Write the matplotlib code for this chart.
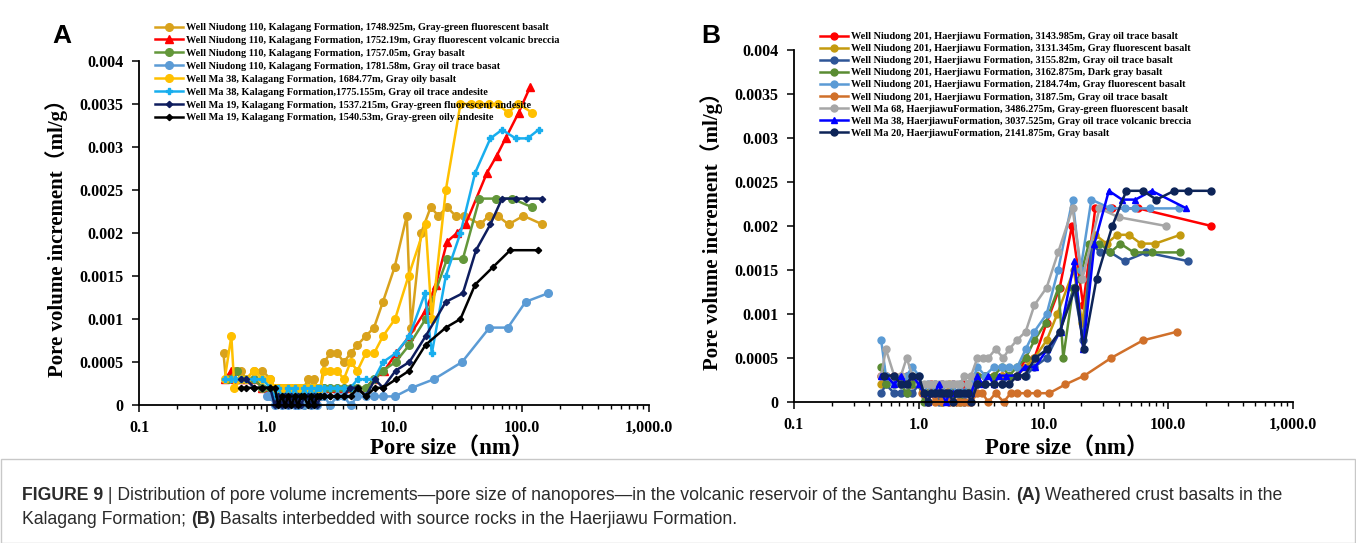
import matplotlib
matplotlib.use("Agg")
import matplotlib.pyplot as plt
from matplotlib.ticker import FixedLocator, NullFormatter, LogLocator
from matplotlib.patches import Rectangle

W, H = 1356, 543

# ---------------- Panel A data ----------------
labels_a = [
    "Well Niudong 110, Kalagang Formation, 1748.925m, Gray-green fluorescent basalt",
    "Well Niudong 110, Kalagang Formation, 1752.19m, Gray fluorescent volcanic breccia",
    "Well Niudong 110, Kalagang Formation, 1757.05m, Gray basalt",
    "Well Niudong 110, Kalagang Formation, 1781.58m, Gray oil trace basat",
    "Well Ma 38, Kalagang Formation, 1684.77m, Gray oily basalt",
    "Well Ma 38, Kalagang Formation,1775.155m, Gray oil trace andesite",
    "Well Ma 19, Kalagang Formation, 1537.215m, Gray-green fluorescent andesite",
    "Well Ma 19, Kalagang Formation, 1540.53m, Gray-green oily andesite",
]

a1_x = [0.46, 0.48, 0.53, 0.57, 0.63, 0.69, 0.80, 0.93, 1.07,
        1.16, 1.24, 1.32, 1.40, 1.48, 1.57, 1.66, 1.76, 1.87, 1.98, 2.10, 2.22, 2.36, 2.50, 2.65,
        2.84, 3.15, 3.59, 4.04, 4.56, 5.17, 6.0, 6.97, 8.19, 10.1, 12.6,
        13.6, 16.3, 19.4, 22.3, 26.1, 30.4, 35.4, 47.6, 55.3, 65.1, 79.1, 103.5, 146]
a1_y = [0.0006, 0.0003, 0.0003, 0.0004, 0.0004, 0.0003, 0.0004, 0.0004, 0.0003,
        0.0002, 0.0002, 0.0002, 0.0002, 0.0002, 0.0002, 0.0002, 0.0002, 0.0002, 0.0002, 0.0003, 0.0002, 0.0003, 0.0002, 0.0002,
        0.0005, 0.0006, 0.0006, 0.0005, 0.0006, 0.0007, 0.0008, 0.0009, 0.0012, 0.0016, 0.0022,
        0.0009, 0.0020, 0.0023, 0.0022, 0.0023, 0.0022, 0.0022, 0.0021, 0.0022, 0.0022, 0.0021, 0.0022, 0.0021]

a2_x = [0.47, 0.53, 0.57, 0.63, 0.69, 0.80, 0.93, 1.07,
        1.16, 1.24, 1.32, 1.40, 1.48, 1.57, 1.66, 1.76, 1.87, 1.98, 2.10, 2.22, 2.36, 2.50, 2.65,
        2.84, 3.15, 3.59, 4.04, 4.56, 5.17, 6.0, 6.97, 8.4, 10.4, 13.2, 17.7, 21.3,
        26.1, 31.2, 36.4, 53.6, 64.0, 75.0, 95.0, 117.0]
a2_y = [0.0003, 0.0004, 0.0003, 0.0003, 0.0003, 0.0003, 0.0002, 0.0002,
        0.0001, 0.0002, 0.0001, 0.0002, 0.0001, 0.0002, 0.0001, 0.0002, 0.0001, 0.0002, 0.0002, 0.0001, 0.0002, 0.0001, 0.0002,
        0.0002, 0.0002, 0.0002, 0.0002, 0.0002, 0.0002, 0.0002, 0.0003, 0.0004, 0.0006, 0.0008, 0.0011, 0.0014,
        0.0019, 0.0020, 0.0021, 0.0027, 0.0029, 0.0031, 0.0034, 0.0037]

a3_x = [0.50, 0.59, 0.63, 0.69, 0.80, 0.93, 1.07,
        1.16, 1.24, 1.32, 1.40, 1.48, 1.57, 1.66, 1.76, 1.87, 1.98, 2.10, 2.22, 2.36, 2.50, 2.65,
        2.84, 3.15, 3.59, 4.04, 4.56, 5.17, 6.0, 6.97, 8.2, 10.3, 13.2, 17.7,
        26.1, 34.7, 46.8, 62.8, 84.2, 121.0]
a3_y = [0.0003, 0.0004, 0.0003, 0.0003, 0.0003, 0.0002, 0.0002,
        0.0001, 0.0002, 0.0001, 0.0001, 0.0002, 0.0001, 0.0001, 0.0002, 0.0001, 0.0001, 0.0002, 0.0001, 0.0001, 0.0002, 0.0001,
        0.0002, 0.0002, 0.0002, 0.0002, 0.0002, 0.0002, 0.0002, 0.0003, 0.0004, 0.0005, 0.0007, 0.0010,
        0.0017, 0.0017, 0.0024, 0.0024, 0.0024, 0.0023]

a4_x = [1.00, 1.07,
        1.16, 1.24, 1.32, 1.40, 1.48, 1.57, 1.66, 1.76, 1.87, 1.98, 2.10, 2.22, 2.36, 2.50, 2.65,
        2.84, 3.15, 3.59, 4.04, 4.56, 5.17, 6.0, 6.97, 8.19, 10.2, 13.8,
        20.6, 34.2, 56.1, 78.2, 107.7, 162.0]
a4_y = [0.0001, 0.0001,
        0.0, 0.0001, 0.0, 0.0001, 0.0, 0.0001, 0.0, 0.0, 0.0001, 0.0, 0.0001, 0.0, 0.0001, 0.0, 0.0001,
        0.0001, 0.0, 0.0001, 0.0001, 0.0, 0.0001, 0.0001, 0.0001, 0.0001, 0.0001, 0.0002,
        0.0003, 0.0005, 0.0009, 0.0009, 0.0012, 0.0013]

a5_x = [0.47, 0.53, 0.56, 0.63, 0.69, 0.80, 0.93, 1.07,
        1.16, 1.24, 1.32, 1.40, 1.48, 1.57, 1.66, 1.76, 1.87, 1.98, 2.10, 2.22, 2.36, 2.50, 2.65,
        2.84, 3.15, 3.59, 4.04, 4.56, 5.17, 6.0, 6.97, 8.19, 10.2, 13.0,
        17.7, 19.8, 25.5, 33.2, 40.0, 46.2, 55.3, 65.0, 78.2, 94.7, 121.0]
a5_y = [0.0003, 0.0008, 0.0002, 0.0003, 0.0003, 0.0004, 0.0003, 0.0003,
        0.0002, 0.0002, 0.0002, 0.0002, 0.0002, 0.0002, 0.0002, 0.0002, 0.0002, 0.0002, 0.0002, 0.0002, 0.0002, 0.0002, 0.0002,
        0.0004, 0.0004, 0.0004, 0.0003, 0.0005, 0.0004, 0.0006, 0.0006, 0.0008, 0.0010, 0.0015,
        0.0021, 0.0010, 0.0025, 0.0035, 0.0035, 0.0035, 0.0035, 0.0035, 0.0034, 0.0035, 0.0034]

a6_x = [0.47, 0.53, 0.57, 0.63, 0.69, 0.80, 0.93, 1.07,
        1.16, 1.24, 1.32, 1.40, 1.48, 1.57, 1.66, 1.76, 1.87, 1.98, 2.10, 2.22, 2.36, 2.50, 2.65,
        2.84, 3.15, 3.59, 4.04, 4.56, 5.2, 6.0, 6.97, 8.2, 10.3, 13.2, 17.5,
        19.8, 25.5, 33.2, 43.3, 57.0, 70.3, 90.0, 111.6, 136.0]
a6_y = [0.0003, 0.0003, 0.0003, 0.0003, 0.0003, 0.0003, 0.0003, 0.0002,
        0.0001, 0.0002, 0.0001, 0.0001, 0.0002, 0.0001, 0.0002, 0.0001, 0.0001, 0.0002, 0.0001, 0.0002, 0.0001, 0.0002, 0.0002,
        0.0002, 0.0002, 0.0002, 0.0002, 0.0002, 0.0003, 0.0003, 0.0003, 0.0005, 0.0006, 0.0008, 0.0013,
        0.0006, 0.0015, 0.0020, 0.0027, 0.0031, 0.0032, 0.0031, 0.0031, 0.0032]

a7_x = [0.63, 0.69, 0.80, 0.93, 1.07,
        1.16, 1.24, 1.32, 1.40, 1.48, 1.57, 1.66, 1.76, 1.87, 1.98, 2.10, 2.22, 2.36, 2.50, 2.65,
        2.84, 3.15, 3.59, 4.04, 4.50, 5.17, 6.0, 7.1, 8.2, 10.3, 13.2, 17.7,
        25.5, 34.7, 44.0, 57.0, 70.3, 90.0, 109.0, 145.0]
a7_y = [0.0003, 0.0003, 0.0002, 0.0002, 0.0002,
        0.0, 0.0001, 0.0, 0.0001, 0.0, 0.0001, 0.0, 0.0001, 0.0, 0.0001, 0.0001, 0.0, 0.0001, 0.0, 0.0001,
        0.0001, 0.0001, 0.0001, 0.0001, 0.0002, 0.0002, 0.0001, 0.0003, 0.0002, 0.0004, 0.0005, 0.0008,
        0.0012, 0.0013, 0.0018, 0.0021, 0.0024, 0.0024, 0.0024, 0.0024]

a8_x = [0.63, 0.69, 0.80, 0.93, 1.07,
        1.16, 1.24, 1.32, 1.40, 1.48, 1.57, 1.66, 1.76, 1.87, 1.98, 2.10, 2.22, 2.36, 2.50, 2.65,
        2.84, 3.15, 3.59, 4.04, 4.56, 5.2, 6.0, 7.1, 8.2, 10.4, 13.2, 17.7,
        25.5, 33.2, 43.3, 59.4, 81.6, 134.0]
a8_y = [0.0002, 0.0002, 0.0002, 0.0002, 0.0002,
        0.0002, 0.0, 0.0001, 0.0, 0.0001, 0.0, 0.0001, 0.0, 0.0001, 0.0001, 0.0, 0.0001, 0.0, 0.0001, 0.0001,
        0.0001, 0.0001, 0.0001, 0.0001, 0.0001, 0.0002, 0.0001, 0.0002, 0.0002, 0.0003, 0.0004, 0.0007,
        0.0009, 0.0010, 0.0014, 0.0016, 0.0018, 0.0018]

# ---------------- Panel B data ----------------
labels_b = [
    "Well Niudong 201, Haerjiawu Formation, 3143.985m, Gray oil trace basalt",
    "Well Niudong 201, Haerjiawu Formation, 3131.345m, Gray fluorescent basalt",
    "Well Niudong 201, Haerjiawu Formation, 3155.82m, Gray oil trace basalt",
    "Well Niudong 201, Haerjiawu Formation, 3162.875m, Dark gray basalt",
    "Well Niudong 201, Haerjiawu Formation, 2184.74m, Gray fluorescent basalt",
    "Well Niudong 201, Haerjiawu Formation, 3187.5m, Gray oil trace basalt",
    "Well Ma 68, HaerjiawuFormation, 3486.275m, Gray-green fluorescent basalt",
    "Well Ma 38, HaerjiawuFormation, 3037.525m, Gray oil trace volcanic breccia",
    "Well Ma 20, HaerjiawuFormation, 2141.875m, Gray basalt",
]

b1_x = [0.50, 0.545, 0.635, 0.72, 0.80, 0.89, 1.00,
        1.10, 1.18, 1.26, 1.35, 1.44, 1.54, 1.65, 1.76, 1.88, 2.01, 2.15, 2.30, 2.46, 2.63,
        2.95, 3.40, 4.00, 4.67, 5.30, 6.17, 7.20, 8.45, 10.6, 13.5, 16.9, 20.8,
        26.0, 35.6, 57.6, 222.0]
b1_y = [0.0003, 0.0003, 0.0003, 0.0002, 0.0003, 0.0002, 0.0002,
        0.0001, 0.0001, 0.0002, 0.0001, 0.0001, 0.0002, 0.0001, 0.0001, 0.0002, 0.0001, 0.0001, 0.0002, 0.0001, 0.0001,
        0.0003, 0.0003, 0.0003, 0.0003, 0.0003, 0.0003, 0.0005, 0.0005, 0.0009, 0.0013, 0.0020, 0.0011,
        0.0022, 0.0022, 0.0022, 0.0020]

b2_x = [0.50, 0.545, 0.635, 0.72, 0.80, 0.89, 1.00,
        1.10, 1.18, 1.26, 1.35, 1.44, 1.54, 1.65, 1.76, 1.88, 2.01, 2.15, 2.30, 2.46, 2.63,
        2.95, 3.40, 4.00, 4.67, 5.30, 6.17, 7.20, 8.45, 10.6, 12.9, 17.5, 20.4,
        26.0, 32.0, 38.9, 48.3, 60.2, 78.8, 125.0]
b2_y = [0.0002, 0.0003, 0.0002, 0.0003, 0.0002, 0.0003, 0.0002,
        0.0001, 0.0001, 0.0001, 0.0002, 0.0001, 0.0001, 0.0001, 0.0002, 0.0001, 0.0001, 0.0001, 0.0001, 0.0002, 0.0001,
        0.0003, 0.0003, 0.0003, 0.0003, 0.0003, 0.0003, 0.0004, 0.0005, 0.0007, 0.0010, 0.0015, 0.0009,
        0.0019, 0.0018, 0.0019, 0.0019, 0.0018, 0.0018, 0.0019]

b3_x = [0.50, 0.545, 0.635, 0.72, 0.80, 0.89, 1.00,
        1.10, 1.18, 1.26, 1.35, 1.44, 1.54, 1.65, 1.76, 1.88, 2.01, 2.15, 2.30, 2.46, 2.63,
        2.95, 3.40, 4.00, 4.67, 5.30, 6.17, 7.20, 8.45, 10.6, 13.5, 17.5, 20.8,
        24.2, 28.5, 34.4, 44.6, 66.2, 145.0]
b3_y = [0.0001, 0.0002, 0.0001, 0.0001, 0.0001, 0.0001, 0.0002,
        0.0001, 0.0, 0.0001, 0.0001, 0.0, 0.0001, 0.0001, 0.0, 0.0001, 0.0001, 0.0001, 0.0, 0.0001, 0.0001,
        0.0002, 0.0002, 0.0002, 0.0002, 0.0003, 0.0003, 0.0003, 0.0004, 0.0005, 0.0008, 0.0013, 0.0007,
        0.0018, 0.0017, 0.0017, 0.0016, 0.0017, 0.0016]

b4_x = [0.50, 0.545, 0.635, 0.72, 0.80, 0.89, 1.00,
        1.10, 1.18, 1.26, 1.35, 1.44, 1.54, 1.65, 1.76, 1.88, 2.01, 2.15, 2.30, 2.46, 2.63,
        2.95, 3.40, 4.00, 4.67, 5.30, 6.17, 7.20, 8.45, 10.4, 13.2, 14.4, 17.3, 19.5,
        23.1, 28.1, 34.4, 41.3, 52.8, 73.7, 125.0]
b4_y = [0.0004, 0.0002, 0.0002, 0.0002, 0.0001, 0.0002, 0.0002,
        0.0, 0.0001, 0.0001, 0.0001, 0.0001, 0.0, 0.0001, 0.0001, 0.0001, 0.0001, 0.0, 0.0001, 0.0001, 0.0001,
        0.0003, 0.0003, 0.0003, 0.0004, 0.0003, 0.0004, 0.0005, 0.0007, 0.0009, 0.0013, 0.0005, 0.0013, 0.0014,
        0.0018, 0.0018, 0.0017, 0.0018, 0.0017, 0.0017, 0.0017]

b5_x = [0.50, 0.545, 0.635, 0.72, 0.80, 0.89, 1.00,
        1.10, 1.18, 1.26, 1.35, 1.44, 1.54, 1.65, 1.76, 1.88, 2.01, 2.15, 2.30, 2.46, 2.63,
        2.95, 3.40, 4.00, 4.67, 5.30, 6.17, 7.20, 8.45, 10.6, 13.1, 17.1, 19.8,
        24.2, 34.4, 44.6, 54.0, 71.5, 122.9]
b5_y = [0.0007, 0.0003, 0.0002, 0.0002, 0.0003, 0.0004, 0.0003,
        0.0001, 0.0002, 0.0001, 0.0002, 0.0001, 0.0002, 0.0001, 0.0001, 0.0002, 0.0001, 0.0002, 0.0001, 0.0002, 0.0002,
        0.0004, 0.0003, 0.0004, 0.0004, 0.0004, 0.0004, 0.0006, 0.0008, 0.0010, 0.0015, 0.0023, 0.0015,
        0.0023, 0.0022, 0.0022, 0.0022, 0.0022, 0.0022]

b6_x = [1.07, 1.18, 1.26, 1.35, 1.44, 1.54, 1.65, 1.76, 1.88, 2.01, 2.15, 2.30, 2.46, 2.63,
        2.95, 3.24, 3.60, 4.13, 4.80, 5.45, 6.10, 7.40, 8.90, 11.1, 15.0, 21.3,
        34.8, 62.6, 118.6]
b6_y = [0.0001, 0.0, 0.0001, 0.0, 0.0001, 0.0, 0.0001, 0.0, 0.0, 0.0, 0.0, 0.0, 0.0, 0.0,
        0.0001, 0.0001, 0.0, 0.0001, 0.0, 0.0001, 0.0001, 0.0001, 0.0001, 0.0001, 0.0002, 0.0003,
        0.0005, 0.0007, 0.0008]

b7_x = [0.50, 0.545, 0.635, 0.72, 0.80, 0.89, 1.00,
        1.10, 1.18, 1.26, 1.35, 1.44, 1.54, 1.65, 1.76, 1.88, 2.01, 2.15, 2.30, 2.46, 2.63,
        2.95, 3.25, 3.60, 4.13, 4.76, 5.30, 6.10, 7.20, 8.45, 10.6, 13.1, 17.1, 20.5,
        28.1, 40.0, 96.2]
b7_y = [0.0003, 0.0006, 0.0003, 0.0003, 0.0005, 0.0003, 0.0002,
        0.0002, 0.0002, 0.0002, 0.0002, 0.0002, 0.0002, 0.0002, 0.0002, 0.0002, 0.0002, 0.0002, 0.0003, 0.0002, 0.0003,
        0.0005, 0.0005, 0.0005, 0.0006, 0.0005, 0.0006, 0.0007, 0.0008, 0.0011, 0.0013, 0.0017, 0.0022, 0.0014,
        0.0022, 0.0021, 0.0020]

b8_x = [0.50, 0.545, 0.635, 0.72, 0.80, 0.89, 1.00,
        1.10, 1.18, 1.26, 1.35, 1.44, 1.54, 1.65, 1.76, 1.88, 2.01, 2.15, 2.30, 2.46, 2.63,
        2.95, 3.25, 3.60, 4.00, 4.40, 5.00, 6.17, 7.05, 8.6, 10.7, 13.7, 17.7, 20.8,
        25.6, 33.4, 42.6, 54.6, 73.7, 140.0]
b8_y = [0.0003, 0.0003, 0.0002, 0.0003, 0.0002, 0.0003, 0.0002,
        0.0001, 0.0, 0.0001, 0.0001, 0.0002, 0.0001, 0.0, 0.0001, 0.0001, 0.0001, 0.0001, 0.0001, 0.0001, 0.0001,
        0.0003, 0.0002, 0.0003, 0.0002, 0.0003, 0.0003, 0.0003, 0.0004, 0.0004, 0.0006, 0.0008, 0.0016, 0.0006,
        0.0018, 0.0024, 0.0023, 0.0023, 0.0024, 0.0022]

b9_x = [0.53, 0.635, 0.72, 0.80, 0.89, 1.00,
        1.10, 1.18, 1.26, 1.35, 1.44, 1.54, 1.65, 1.76, 1.88, 2.01, 2.15, 2.30, 2.46, 2.63,
        2.95, 3.40, 4.00, 4.67, 5.30, 6.17, 7.05, 8.6, 10.7, 13.5, 18.0, 21.0,
        26.6, 35.6, 46.1, 62.6, 80.4, 111.6, 145.0, 219.0]
b9_y = [0.0003, 0.0003, 0.0002, 0.0002, 0.0003, 0.0003,
        0.0001, 0.0, 0.0001, 0.0001, 0.0001, 0.0001, 0.0001, 0.0001, 0.0, 0.0001, 0.0001, 0.0001, 0.0001, 0.0,
        0.0002, 0.0002, 0.0002, 0.0002, 0.0002, 0.0003, 0.0003, 0.0005, 0.0006, 0.0008, 0.0013, 0.0006,
        0.0014, 0.0020, 0.0024, 0.0024, 0.0023, 0.0024, 0.0024, 0.0024]

x_ticks = [0.1, 1, 10, 100, 1000]
x_tick_labels = ["0.1", "1.0", "10.0", "100.0", "1,000.0"]
y_ticks = [0, 0.0005, 0.001, 0.0015, 0.002, 0.0025, 0.003, 0.0035, 0.004]
y_tick_labels = ["0", "0.0005", "0.001", "0.0015", "0.002", "0.0025", "0.003", "0.0035", "0.004"]

series_a = [(a1_x, a1_y), (a2_x, a2_y), (a3_x, a3_y), (a4_x, a4_y),
            (a5_x, a5_y), (a6_x, a6_y), (a7_x, a7_y), (a8_x, a8_y)]
style_a = [
    dict(color="#D9A21C", marker="o", ms=5.5),
    dict(color="#FF0000", marker="^", ms=5.5),
    dict(color="#63973A", marker="o", ms=5.5),
    dict(color="#5B9BD5", marker="o", ms=5.5),
    dict(color="#FFC000", marker="o", ms=5.5),
    dict(color="#18AEEE", marker="P", ms=5),
    dict(color="#0E1D5E", marker="D", ms=3.2),
    dict(color="#000000", marker="D", ms=3.2),
]
series_b = [(b1_x, b1_y), (b2_x, b2_y), (b3_x, b3_y), (b4_x, b4_y), (b5_x, b5_y),
            (b6_x, b6_y), (b7_x, b7_y), (b8_x, b8_y), (b9_x, b9_y)]
style_b = [
    dict(color="#FF0000", marker="o", ms=5),
    dict(color="#C49A0E", marker="o", ms=5),
    dict(color="#2E5597", marker="o", ms=5),
    dict(color="#5A8C32", marker="o", ms=5),
    dict(color="#5B9BD5", marker="o", ms=5),
    dict(color="#D0702A", marker="o", ms=5),
    dict(color="#A6A6A6", marker="o", ms=5),
    dict(color="#0000FF", marker="^", ms=5),
    dict(color="#0D2458", marker="o", ms=5),
]

SERIF = ["Liberation Serif", "Noto Sans CJK SC"]
SANS = ["Liberation Sans", "DejaVu Sans"]

fig = plt.figure(figsize=(W / 100, H / 100), dpi=100)
fig.patch.set_facecolor("white")


def px_axes(l, t, r, b):
    return fig.add_axes([l / W, 1 - b / H, (r - l) / W, (b - t) / H])


def style_axes(ax):
    ax.set_xscale("log")
    ax.set_xlim(0.1, 1000)
    ax.set_ylim(0, 0.004)
    for s in ["top", "right"]:
        ax.spines[s].set_visible(False)
    for s in ["left", "bottom"]:
        ax.spines[s].set_linewidth(1.3)
    ax.xaxis.set_major_locator(FixedLocator(x_ticks))
    ax.set_xticklabels(x_tick_labels)
    ax.xaxis.set_minor_locator(LogLocator(base=10, subs=[2, 3, 4, 5, 6, 7, 8, 9], numticks=20))
    ax.xaxis.set_minor_formatter(NullFormatter())
    ax.yaxis.set_major_locator(FixedLocator(y_ticks))
    ax.set_yticklabels(y_tick_labels)
    ax.tick_params(which="major", direction="out", length=5, width=1.1, pad=6)
    ax.tick_params(which="minor", direction="out", length=3, width=1.0)
    for lab in ax.get_xticklabels() + ax.get_yticklabels():
        lab.set_fontfamily(SERIF)
        lab.set_fontweight("bold")
        lab.set_fontsize(11.5)
    ax.set_ylabel("Pore volume increment（ml/g）", fontsize=15, fontweight="bold", family=SERIF, labelpad=8)


axA = px_axes(139, 61, 649, 405)
style_axes(axA)
for (xs, ys), st, lab in zip(series_a, style_a, labels_a):
    axA.plot(xs, ys, color=st["color"], marker=st["marker"], markersize=st["ms"],
             linewidth=1.8, label=lab, clip_on=False)

axB = px_axes(794, 50, 1293, 402)
style_axes(axB)
for (xs, ys), st, lab in zip(series_b, style_b, labels_b):
    axB.plot(xs, ys, color=st["color"], marker=st["marker"], markersize=st["ms"],
             linewidth=1.8, label=lab, clip_on=False)

# x-axis titles (placed as in the reference, right of the axes centre)
fig.text(452 / W, 1 - 449 / H, "Pore size（nm）", fontsize=16.5, fontweight="bold", family=SERIF,
         ha="center", va="center")
fig.text(1067 / W, 1 - 449 / H, "Pore size（nm）", fontsize=16.5, fontweight="bold", family=SERIF,
         ha="center", va="center")

leg_kw = dict(loc="upper left", frameon=False, borderpad=0, borderaxespad=0,
              handlelength=2.7, handletextpad=0.3,
              prop=dict(family=SERIF, weight="bold", size=7.4))
legA = axA.legend(bbox_to_anchor=(155 / W, 1 - 23 / H), bbox_transform=fig.transFigure,
                  labelspacing=0.36, **leg_kw)
legB = axB.legend(bbox_to_anchor=(820 / W, 1 - 32 / H), bbox_transform=fig.transFigure,
                  labelspacing=0.28, **leg_kw)

fig.text(62 / W, 1 - 36 / H, "A", fontsize=19, fontweight="bold", family=SANS, ha="center", va="center")
fig.text(711 / W, 1 - 36 / H, "B", fontsize=19, fontweight="bold", family=SANS, ha="center", va="center")

# caption frame
frame = Rectangle((0.5 / W, 0.5 / H), (W - 1.5) / W, (H - 458 - 1) / H,
                  transform=fig.transFigure, fill=False, edgecolor="#C8C8C8", linewidth=1.0, zorder=0)
fig.patches.append(frame)

CAP = ["Liberation Sans", "DejaVu Sans"]
cap_lines = [
    [("FIGURE 9", "bold"), (" | Distribution of pore volume increments\u2014pore size of nanopores\u2014in the volcanic reservoir of the Santanghu Basin. ", "normal"),
     ("(A)", "bold"), (" Weathered crust basalts in the", "normal")],
    [("Kalagang Formation; ", "normal"), ("(B)", "bold"), (" Basalts interbedded with source rocks in the Haerjiawu Formation.", "normal")],
]
cap_y = [496, 520]
renderer = fig.canvas.get_renderer()
cap_size = 11.5
texts = []
for runs, yy in zip(cap_lines, cap_y):
    row = []
    for s, wgt in runs:
        t = fig.text(0, 1 - yy / H, s, fontsize=cap_size, fontweight=wgt, family=CAP,
                     color="#2b2b2b", va="center", ha="left")
        row.append(t)
    texts.append(row)
# scale so that line 1 spans the same width as in the reference
w1 = sum(t.get_window_extent(renderer).width for t in texts[0])
scale = 1266 / w1
for row in texts:
    x = 22
    for t in row:
        t.set_fontsize(cap_size * scale)
        t.set_x(x / W)
        x += t.get_window_extent(renderer).width

fig.savefig("out.png", dpi=100, facecolor="white")
